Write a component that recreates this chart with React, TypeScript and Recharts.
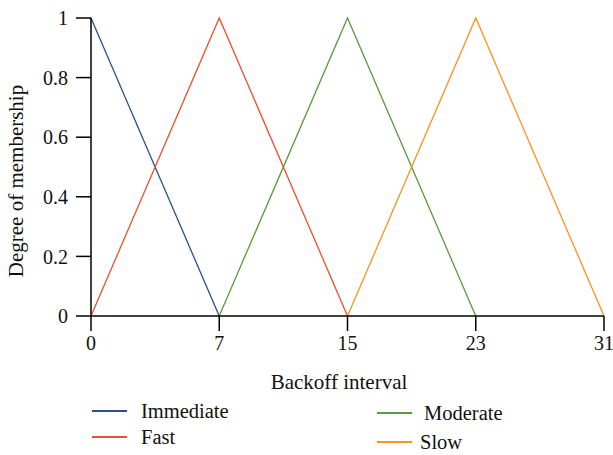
import React from "react";
import { Line, LineChart, XAxis, YAxis } from "recharts";

const backoffLabels = ["0", "7", "15", "23", "31"];
const immediate = [1, 0, null, null, null];
const fast = [0, 1, 0, null, null];
const moderate = [null, 0, 1, 0, null];
const slow = [null, null, 0, 1, 0];
const yTicks = [0, 0.2, 0.4, 0.6, 0.8, 1];

const colors = {
  immediate: "#2b4f8e",
  fast: "#ef4f2b",
  moderate: "#5b9b3c",
  slow: "#f7941d",
};

const data = backoffLabels.map((label, i) => ({
  label,
  immediate: immediate[i],
  fast: fast[i],
  moderate: moderate[i],
  slow: slow[i],
}));

const font = "'Liberation Serif', 'DejaVu Serif', serif";

function LegendItem({ left, top, color, text, gap }: any) {
  return (
    <div style={{ position: "absolute", left, top, display: "flex", alignItems: "center", height: 24 }}>
      <span style={{ width: 35, height: 1.5, background: color, display: "inline-block" }} />
      <span style={{ marginLeft: gap, fontSize: 20.5, color: "#111", lineHeight: "24px" }}>{text}</span>
    </div>
  );
}

export default function App() {
  return (
    <div style={{ position: "absolute", left: 0, top: 0, width: 613, height: 455, fontFamily: font, background: "#fff" }}>
      <LineChart
        width={613}
        height={455}
        data={data}
        margin={{ top: 18, right: 9, bottom: 64, left: 0 }}
      >
        <XAxis
          dataKey="label"
          interval={0}
          height={75}
          tickSize={15}
          tickMargin={5}
          stroke="#000"
          strokeWidth={1.5}
          tick={{ fill: "#111", fontSize: 20, fontFamily: font }}
        />
        <YAxis
          type="number"
          domain={[0, 1]}
          ticks={yTicks}
          width={91}
          tickSize={15}
          tickMargin={8}
          stroke="#000"
          strokeWidth={1.5}
          tick={{ fill: "#111", fontSize: 20, fontFamily: font }}
        />
        <Line dataKey="immediate" stroke={colors.immediate} strokeWidth={1.3} dot={false} isAnimationActive={false} />
        <Line dataKey="fast" stroke={colors.fast} strokeWidth={1.3} dot={false} isAnimationActive={false} />
        <Line dataKey="moderate" stroke={colors.moderate} strokeWidth={1.3} dot={false} isAnimationActive={false} />
        <Line dataKey="slow" stroke={colors.slow} strokeWidth={1.3} dot={false} isAnimationActive={false} />
      </LineChart>
      <div style={{ position: "absolute", left: 239, top: 369, width: 200, textAlign: "center", fontSize: 21, lineHeight: "26px", color: "#111" }}>
        Backoff interval
      </div>
      <div style={{ position: "absolute", left: 16 - 120, top: 181 - 13, width: 240, textAlign: "center", fontSize: 21, lineHeight: "26px", color: "#111", transform: "rotate(-90deg)" }}>
        Degree of membership
      </div>
      <LegendItem left={92} top={399} color={colors.immediate} text="Immediate" gap={14} />
      <LegendItem left={92} top={425} color={colors.fast} text="Fast" gap={14} />
      <LegendItem left={377} top={401} color={colors.moderate} text="Moderate" gap={12} />
      <LegendItem left={377} top={430} color={colors.slow} text="Slow" gap={8} />
    </div>
  );
}
